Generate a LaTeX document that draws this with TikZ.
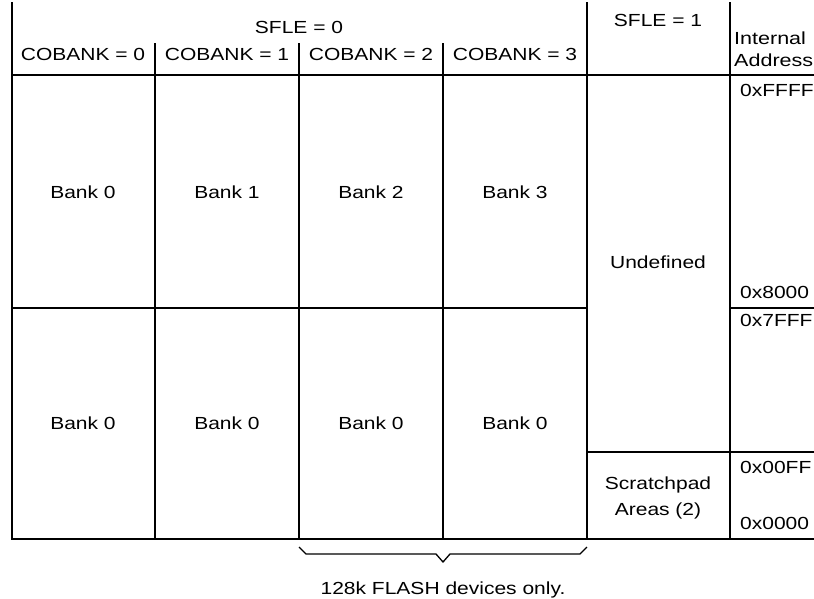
\documentclass[tikz,border=0pt]{standalone}
\usepackage{fontspec}
\setmainfont{Liberation Sans}[FakeStretch=1.2]
\newfontfamily\widesans{Liberation Sans}[FakeStretch=1.23]
\begin{document}
\begin{tikzpicture}[x=1pt,y=-1pt,
  grid/.style={line width=1.6pt, line cap=rect},
  lbl/.style={anchor=base, inner sep=0pt, font=\fontsize{17.5}{21}\selectfont},
  addr/.style={anchor=base west, inner sep=0pt, font=\fontsize{17.5}{21}\selectfont},
  hdr/.style={anchor=base west, inner sep=0pt, font=\widesans\fontsize{17.5}{21}\selectfont},
  bracestyle/.style={line width=1.3pt}]
\useasboundingbox (0,0) rectangle (814,598);
% vertical lines
\draw[grid] (12,3) -- (12,539);
\draw[grid] (155,44) -- (155,539);
\draw[grid] (299,44) -- (299,539);
\draw[grid] (443,44) -- (443,539);
\draw[grid] (587,3) -- (587,539);
\draw[grid] (730,3) -- (730,539);
% horizontal lines
\draw[grid] (12,75) -- (814,75);
\draw[grid] (12,308) -- (587,308);
\draw[grid] (730,308) -- (814,308);
\draw[grid] (587,452) -- (814,452);
\draw[grid] (12,539) -- (814,539);
% header
\node[lbl] (sfle0) at (299,33) {SFLE = 0};
\node[lbl] (cb0) at (83,60) {COBANK = 0};
\node[lbl] (cb1) at (227,60) {COBANK = 1};
\node[lbl] (cb2) at (371,60) {COBANK = 2};
\node[lbl] (cb3) at (515,60) {COBANK = 3};
\node[lbl] (sfle1) at (658,26) {SFLE = 1};
\node[hdr] (int) at (734,44) {Internal};
\node[hdr] (adr) at (734,66) {Address};
% banks
\node[lbl] (b10) at (83,198) {Bank 0};
\node[lbl] (b11) at (227,198) {Bank 1};
\node[lbl] (b12) at (371,198) {Bank 2};
\node[lbl] (b13) at (515,198) {Bank 3};
\node[lbl] (b20) at (83,429) {Bank 0};
\node[lbl] (b21) at (227,429) {Bank 0};
\node[lbl] (b22) at (371,429) {Bank 0};
\node[lbl] (b23) at (515,429) {Bank 0};
\node[lbl] (undef) at (658,268) {Undefined};
\node[lbl] (scr1) at (658,489) {Scratchpad};
\node[lbl] (scr2) at (658,515) {Areas (2)};
% addresses
\node[addr] (aFFFF) at (740,96) {0xFFFF};
\node[addr] (a8000) at (740,298) {0x8000};
\node[addr] (a7FFF) at (740,326) {0x7FFF};
\node[addr] (a00FF) at (740,473) {0x00FF};
\node[addr] (a0000) at (740,529) {0x0000};
% brace
\coordinate (bs) at (299,547);
\coordinate (be) at (587,547);
\coordinate (btip) at (443,562);
\draw[bracestyle] (bs) -- (306,554) -- (436,554) -- (btip) -- (450,554) -- (580,554) -- (be);
\node[lbl] (note) at (443,594) {128k FLASH devices only.};
\end{tikzpicture}
\end{document}
